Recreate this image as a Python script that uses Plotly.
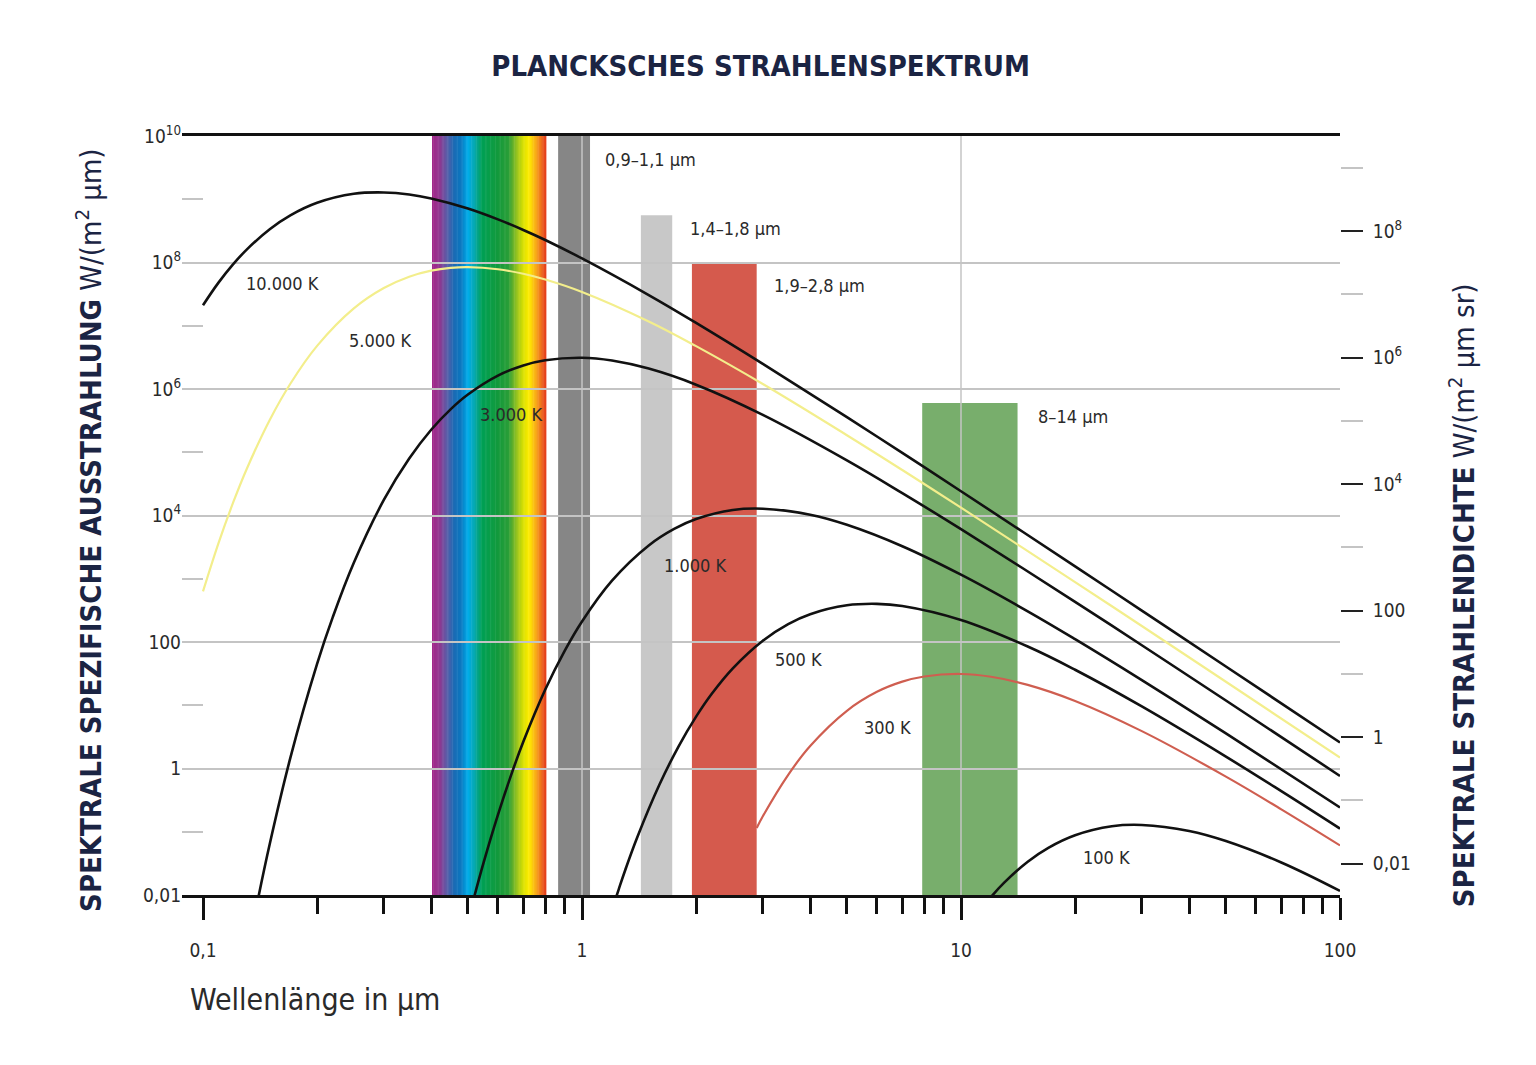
import numpy as np
import plotly.graph_objects as go

# Planck curves, values (W/(m2 um))
wl_10000 = [0.1, 0.11, 0.12, 0.13, 0.15, 0.17, 0.2, 0.25, 0.3, 0.35, 0.4, 0.5, 0.6, 0.7, 0.8, 1, 1.5, 2, 3, 5, 7,
            10, 20, 30, 50, 100]
m_10000 = [2.11e7, 4.85e7, 9.34e7, 1.57e8, 3.36e8, 5.56e8, 8.79e8, 1.22e9, 1.28e9, 1.19e9, 1.03e9, 7.14e8, 4.81e8,
           3.27e8, 2.27e8, 1.16e8, 3.06e7, 1.11e7, 2.50e6, 3.59e5, 9.76e4, 2.42e4, 1570, 314, 41.0, 2.58]

wl_5000 = [0.1, 0.11, 0.12, 0.13, 0.15, 0.17, 0.2, 0.25, 0.3, 0.35, 0.4, 0.45, 0.5, 0.6, 0.7, 0.8, 1, 1.5, 2, 3, 5,
           7, 10, 20, 30, 50, 100]
m_5000 = [630, 3730, 1.58e4, 5.20e4, 3.24e5, 1.21e6, 4.80e6, 1.88e7, 3.95e7, 5.96e7, 7.42e7, 8.22e7, 8.45e7, 7.83e7,
          6.63e7, 5.38e7, 3.42e7, 1.17e7, 4.76e6, 1.20e6, 1.86e5, 5.24e4, 1.33e4, 886, 179, 23.5, 1.49]

wl_3000 = [0.14, 0.15, 0.17, 0.2, 0.22, 0.25, 0.3, 0.35, 0.4, 0.45, 0.5, 0.6, 0.7, 0.8, 1, 1.2, 1.5, 2, 3, 5, 7, 10,
           20, 30, 50, 100]
m_3000 = [0.0092, 0.0641, 1.47, 45.0, 247, 1790, 1.76e4, 7.95e4, 2.27e5, 4.77e5, 8.18e5, 1.63e6, 2.36e6, 2.85e6,
          3.12e6, 2.82e6, 2.10e6, 1.17e6, 3.90e5, 7.44e4, 2.26e4, 6080, 432, 88.8, 11.9, 0.762]

wl_1000 = [0.52, 0.55, 0.6, 0.65, 0.7, 0.8, 0.9, 1, 1.2, 1.5, 1.75, 2, 2.5, 3, 4, 5, 7, 10, 15, 20, 30, 50, 100]
m_1000 = [0.0095, 0.0324, 0.185, 0.786, 2.64, 17.7, 72.3, 211, 933, 3360, 6130, 8790, 1.22e4, 1.28e4, 1.03e4, 7140,
          3270, 1160, 306, 111, 25.0, 3.59, 0.242]

wl_500 = [1.2, 1.25, 1.3, 1.4, 1.6, 1.8, 2, 2.2, 2.5, 3, 3.5, 4, 5, 6, 7, 10, 15, 20, 30, 50, 70, 100]
m_500 = [0.0058, 0.0123, 0.0246, 0.0824, 0.552, 2.26, 6.60, 15.2, 38.4, 105, 192, 275, 380, 401, 371, 223, 84.8,
         36.4, 9.57, 1.54, 0.438, 0.112]

wl_300 = [2.89, 3, 3.5, 4, 5, 6, 7, 8, 10, 12, 15, 20, 30, 50, 70, 100]
m_300 = [0.115, 0.176, 0.795, 2.27, 8.18, 16.3, 23.6, 28.5, 31.2, 28.2, 21.0, 11.7, 3.90, 0.744, 0.226, 0.0608]

wl_100 = [12, 13, 15, 17, 20, 25, 30, 40, 50, 70, 100]
m_100 = [0.0093, 0.0157, 0.0336, 0.0556, 0.0879, 0.122, 0.128, 0.103, 0.0714, 0.0327, 0.0116]

curve_labels = ["10.000 K", "5.000 K", "3.000 K", "1.000 K", "500 K", "300 K", "100 K"]
curve_label_x = [0.128, 0.24, 0.532, 1.63, 3.19, 5.48, 20.7]
curve_label_y = [4.6e7, 5.8e6, 4.0e5, 1.6e3, 52, 4.4, 0.0385]

# atmospheric windows / bands
band_lo = [0.865, 1.43, 1.95, 7.9]
band_hi = [1.05, 1.73, 2.89, 14.1]
band_top = [1e10, 5.6e8, 1e8, 6.0e5]
band_labels = ["0,9–1,1 µm", "1,4–1,8 µm", "1,9–2,8 µm", "8–14 µm"]
band_label_x = [1.136, 1.905, 3.17, 15.8]
band_label_y = [4.2e9, 3.4e8, 4.4e7, 3.7e5]

# visible range with spectrum colour stops
vis_band = [0.402, 0.803]
spec_wl = [0.402, 0.42, 0.44, 0.46, 0.48, 0.50, 0.52, 0.545, 0.60, 0.64, 0.67, 0.70, 0.725, 0.76, 0.803]
spec_col = ["#a4288a", "#92358f", "#5b5ea8", "#1a6bb5", "#0a78c0", "#00acea", "#06a8b0", "#00a055",
            "#139a3c", "#2a9e38", "#8fc023", "#d9e000", "#ffec00", "#f7a11c", "#e43a1d"]

y_ticks = [1e10, 1e8, 1e6, 1e4, 100, 1, 0.01]
y_ticktext = ["10<sup>10</sup>", "10<sup>8</sup>", "10<sup>6</sup>", "10<sup>4</sup>", "100", "1", "0,01"]
y_minor = [1e9, 1e7, 1e5, 1e3, 10, 0.1]
y2_ticks = [1e8, 1e6, 1e4, 100, 1, 0.01]
y2_ticktext = ["10<sup>8</sup>", "10<sup>6</sup>", "10<sup>4</sup>", "100", "1", "0,01"]
y2_minor = [1e9, 1e7, 1e5, 1e3, 10, 0.1]
x_ticks = [0.1, 1, 10, 100]
x_ticktext = ["0,1", "1", "10", "100"]
x_minor = [0.2, 0.3, 0.4, 0.5, 0.6, 0.7, 0.8, 0.9, 2, 3, 4, 5, 6, 7, 8, 9, 20, 30, 40, 50, 60, 70, 80, 90]
x_grid = [1, 10]

FONT = "DejaVu Sans Condensed, Liberation Sans Narrow, Arial Narrow, sans-serif"
NAVY = "#1b2443"
TXT = "#2a2a2a"


def hex_rgb(h):
    h = h.lstrip("#")
    return [int(h[i:i + 2], 16) for i in (0, 2, 4)]


def spectrum_color(w):
    lw = np.log10(spec_wl)
    cols = np.array([hex_rgb(c) for c in spec_col], dtype=float)
    r, g, b = [np.interp(np.log10(w), lw, cols[:, k]) for k in range(3)]
    return "rgb(%d,%d,%d)" % (round(r), round(g), round(b))


fig = go.Figure()

curves = [
    (wl_10000, m_10000, "#111111", 2.6),
    (wl_5000, m_5000, "#f3ee8c", 2.2),
    (wl_3000, m_3000, "#111111", 2.6),
    (wl_1000, m_1000, "#111111", 2.6),
    (wl_500, m_500, "#111111", 2.6),
    (wl_300, m_300, "#cf5e50", 2.2),
    (wl_100, m_100, "#111111", 2.6),
]
for wl, m, col, w in curves:
    fig.add_trace(go.Scatter(x=wl, y=m, mode="lines", line=dict(color=col, width=w, shape="spline", smoothing=1.1),
                             hoverinfo="skip", showlegend=False))

# dummy trace so the right axis is drawn
fig.add_trace(go.Scatter(x=[None], y=[None], yaxis="y2", showlegend=False, hoverinfo="skip"))

shapes = []
# rainbow
edges = np.logspace(np.log10(vis_band[0]), np.log10(vis_band[1]), 91)
for a, b in zip(edges[:-1], edges[1:]):
    shapes.append(dict(type="rect", xref="x", yref="y", x0=a, x1=b * 1.003, y0=0.01, y1=1e10,
                       fillcolor=spectrum_color(np.sqrt(a * b)), line=dict(width=0), layer="below"))
band_cols = ["#868686", "#c8c8c8", "#d55a4d", "#78ae6c"]
for lo, hi, top, c in zip(band_lo, band_hi, band_top, band_cols):
    shapes.append(dict(type="rect", xref="x", yref="y", x0=lo, x1=hi, y0=0.01, y1=top,
                       fillcolor=c, line=dict(width=0), layer="below"))
for gx in x_grid:
    shapes.append(dict(type="line", xref="x", yref="y", x0=gx, x1=gx, y0=0.01, y1=1e10,
                       line=dict(color="#c4c4c4", width=1.5), layer="between"))

annotations = []
for t, x, y in zip(curve_labels + band_labels, curve_label_x + band_label_x, curve_label_y + band_label_y):
    annotations.append(dict(text=t, x=np.log10(x), y=np.log10(y), xref="x", yref="y", xanchor="left",
                            yanchor="middle", showarrow=False, font=dict(family=FONT, size=18, color=TXT)))

annotations.append(dict(text="<b>SPEKTRALE SPEZIFISCHE AUSSTRAHLUNG</b> W/(m<sup>2</sup> µm)", textangle=-90,
                        xref="paper", yref="paper", x=-0.081, y=0.48, xanchor="center", yanchor="middle",
                        showarrow=False, font=dict(family=FONT, size=29, color=NAVY)))
annotations.append(dict(text="<b>SPEKTRALE STRAHLENDICHTE</b> W/(m<sup>2</sup> µm sr)", textangle=-90,
                        xref="paper", yref="paper", x=1.106, y=-0.019, xanchor="center", yanchor="bottom",
                        showarrow=False, font=dict(family=FONT, size=29, color=NAVY)))
annotations.append(dict(text="Wellenlänge in µm", xref="paper", yref="paper", x=0.005, y=-0.138,
                        xanchor="left", yanchor="middle", showarrow=False,
                        font=dict(family=FONT, size=30, color=TXT)))

fig.update_layout(
    width=1536, height=1065,
    margin=dict(l=174, r=204, t=128, b=178),
    plot_bgcolor="white", paper_bgcolor="white",
    showlegend=False,
    title=dict(text="<b>PLANCKSCHES STRAHLENSPEKTRUM</b>", x=0.49, xanchor="center", y=1 - 58 / 1065,
               yanchor="middle", yref="container", font=dict(family=FONT, size=29, color=NAVY)),
    xaxis=dict(type="log", range=[np.log10(0.1) - 0.0554, 2], tickmode="array", tickvals=x_ticks,
               ticktext=x_ticktext, ticks="outside", ticklen=22, tickwidth=2.5, tickcolor="#111",
               showgrid=False, showline=True, linecolor="#111", linewidth=3, mirror=True,
               ticklabelstandoff=14, tickfont=dict(family=FONT, size=19, color=TXT), zeroline=False,
               minor=dict(tickmode="array", tickvals=x_minor, ticks="outside", ticklen=16, tickwidth=2.5,
                          tickcolor="#111", showgrid=False)),
    yaxis=dict(type="log", range=[-2, 10], tickmode="array", tickvals=y_ticks, ticktext=y_ticktext,
               ticks="inside", ticklen=21, tickwidth=1.5, tickcolor="#c4c4c4",
               showgrid=True, gridcolor="#c4c4c4", gridwidth=1.5, showline=False, zeroline=False,
               tickfont=dict(family=FONT, size=19, color=TXT),
               minor=dict(tickmode="array", tickvals=y_minor, ticks="inside", ticklen=21, tickwidth=1.5,
                          tickcolor="#c4c4c4", showgrid=False)),
    yaxis2=dict(type="log", overlaying="y", side="right", range=[-2 - np.log10(np.pi), 10 - np.log10(np.pi)],
                tickmode="array", tickvals=y2_ticks, ticktext=y2_ticktext, ticks="outside", ticklen=22,
                tickwidth=1.8, tickcolor="#222", showgrid=False, showline=False, zeroline=False,
                ticklabelstandoff=6, tickfont=dict(family=FONT, size=19, color=TXT),
                minor=dict(tickmode="array", tickvals=y2_minor, ticks="outside", ticklen=22, tickwidth=1.5,
                           tickcolor="#c4c4c4", showgrid=False)),
    shapes=shapes,
    annotations=annotations,
)

fig.write_html("out.html")
